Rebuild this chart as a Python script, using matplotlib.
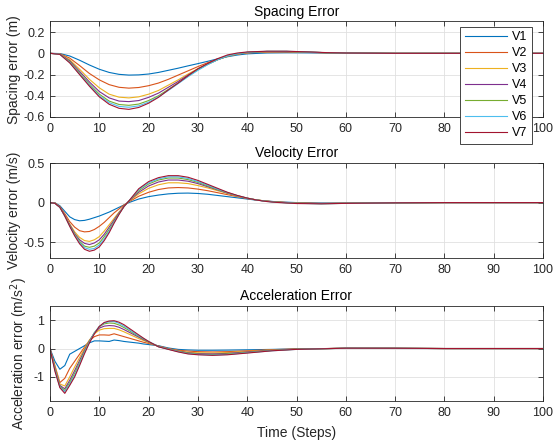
import numpy as np
import matplotlib
matplotlib.use("Agg")
import matplotlib.pyplot as plt

plt.rcParams['font.family'] = ['Liberation Sans', 'DejaVu Sans']

# Series names and MATLAB default colours
names = ["V1", "V2", "V3", "V4", "V5", "V6", "V7"]
colors = ["#0072BD", "#D95319", "#EDB120", "#7E2F8E", "#77AC30", "#4DBEEE", "#A2142F"]

# Spacing error (m)
t_sp = [0, 2, 4, 6, 8, 10, 12, 14, 16, 18, 20, 22, 24, 26, 28, 30, 32, 34, 36, 38,
        40, 44, 48, 52, 56, 60, 70, 80, 90, 100]
sp_v1 = [0, -0.002, -0.025, -0.065, -0.11, -0.15, -0.18, -0.198, -0.205, -0.203,
         -0.195, -0.18, -0.16, -0.14, -0.118, -0.097, -0.075, -0.052, -0.032, -0.016,
         -0.005, 0.004, 0.006, 0.005, 0.003, 0.002, 0, 0, 0, 0]
sp_v2 = [0, -0.004, -0.045, -0.115, -0.19, -0.25, -0.295, -0.32, -0.328, -0.322,
         -0.305, -0.28, -0.245, -0.205, -0.165, -0.125, -0.088, -0.055, -0.027, -0.008,
         0.004, 0.012, 0.013, 0.009, 0.005, 0.003, 0, 0, 0, 0]
sp_v3 = [0, -0.006, -0.06, -0.15, -0.245, -0.325, -0.385, -0.413, -0.42, -0.41,
         -0.385, -0.35, -0.30, -0.25, -0.195, -0.145, -0.10, -0.06, -0.028, -0.007,
         0.006, 0.015, 0.016, 0.011, 0.006, 0.003, 0, 0, 0, 0]
sp_v4 = [0, -0.007, -0.07, -0.17, -0.27, -0.36, -0.42, -0.45, -0.455, -0.445,
         -0.415, -0.375, -0.32, -0.265, -0.205, -0.15, -0.102, -0.06, -0.027, -0.005,
         0.008, 0.017, 0.017, 0.012, 0.006, 0.003, 0, 0, 0, 0]
sp_v5 = [0, -0.008, -0.078, -0.185, -0.29, -0.385, -0.45, -0.482, -0.49, -0.478,
         -0.445, -0.40, -0.34, -0.28, -0.215, -0.155, -0.104, -0.06, -0.026, -0.004,
         0.009, 0.018, 0.018, 0.012, 0.006, 0.003, 0, 0, 0, 0]
sp_v6 = [0, -0.009, -0.085, -0.195, -0.30, -0.40, -0.465, -0.50, -0.508, -0.495,
         -0.46, -0.41, -0.35, -0.285, -0.22, -0.16, -0.106, -0.06, -0.025, -0.003,
         0.01, 0.019, 0.019, 0.013, 0.006, 0.003, 0, 0, 0, 0]
sp_v7 = [0, -0.01, -0.09, -0.2, -0.31, -0.41, -0.48, -0.518, -0.528, -0.51,
         -0.47, -0.415, -0.345, -0.28, -0.21, -0.145, -0.095, -0.05, -0.015, 0.003,
         0.013, 0.02, 0.02, 0.014, 0.007, 0.003, 0, 0, 0, 0]

# Velocity error (m/s)
t_vel = [0, 1, 2, 3, 4, 5, 6, 7, 8, 9, 10, 11, 12, 13, 14, 15, 16,
         18, 20, 22, 24, 26, 28, 30, 32, 34, 36, 38, 40, 42, 44, 46,
         50, 55, 60, 70, 80, 100]
vel_v1 = [0, -0.003, -0.04, -0.11, -0.18, -0.215, -0.23, -0.225, -0.21, -0.19, -0.17,
          -0.145, -0.12, -0.09, -0.06, -0.03, 0.0,
          0.045, 0.075, 0.095, 0.11, 0.118, 0.12, 0.115, 0.105, 0.09, 0.075, 0.06,
          0.045, 0.03, 0.02, 0.01,
          0.0, -0.005, -0.005, -0.002, 0, 0]
vel_v2 = [0, -0.005, -0.05, -0.14, -0.24, -0.31, -0.355, -0.37, -0.365, -0.34, -0.30,
          -0.25, -0.19, -0.13, -0.08, -0.03, 0.01,
          0.08, 0.13, 0.165, 0.185, 0.19, 0.185, 0.17, 0.15, 0.125, 0.10, 0.075,
          0.05, 0.032, 0.018, 0.008,
          -0.005, -0.01, -0.008, -0.003, 0, 0]
vel_v3 = [0, -0.007, -0.055, -0.16, -0.27, -0.37, -0.44, -0.48, -0.49, -0.47, -0.43,
          -0.36, -0.28, -0.20, -0.12, -0.05, 0.015,
          0.11, 0.18, 0.225, 0.25, 0.25, 0.24, 0.215, 0.185, 0.15, 0.115, 0.08,
          0.055, 0.033, 0.018, 0.007,
          -0.007, -0.012, -0.01, -0.003, 0, 0]
vel_v4 = [0, -0.008, -0.057, -0.165, -0.28, -0.39, -0.47, -0.515, -0.53, -0.51, -0.47,
          -0.40, -0.31, -0.22, -0.13, -0.05, 0.02,
          0.13, 0.21, 0.26, 0.285, 0.285, 0.27, 0.24, 0.20, 0.16, 0.12, 0.085,
          0.055, 0.032, 0.017, 0.006,
          -0.008, -0.013, -0.01, -0.003, 0, 0]
vel_v5 = [0, -0.009, -0.058, -0.168, -0.29, -0.40, -0.49, -0.55, -0.565, -0.55, -0.51,
          -0.43, -0.34, -0.24, -0.14, -0.05, 0.02,
          0.15, 0.235, 0.285, 0.31, 0.31, 0.29, 0.255, 0.21, 0.165, 0.125, 0.087,
          0.056, 0.032, 0.016, 0.005,
          -0.009, -0.014, -0.01, -0.003, 0, 0]
vel_v6 = [0, -0.01, -0.06, -0.17, -0.295, -0.41, -0.505, -0.57, -0.59, -0.58, -0.535,
          -0.46, -0.36, -0.25, -0.145, -0.05, 0.02,
          0.165, 0.25, 0.30, 0.325, 0.325, 0.305, 0.265, 0.22, 0.17, 0.127, 0.088,
          0.056, 0.031, 0.014, 0.003,
          -0.01, -0.015, -0.01, -0.003, 0, 0]
vel_v7 = [0, -0.01, -0.06, -0.17, -0.30, -0.42, -0.52, -0.59, -0.615, -0.60, -0.56,
          -0.48, -0.38, -0.26, -0.15, -0.05, 0.02,
          0.175, 0.265, 0.315, 0.34, 0.34, 0.32, 0.28, 0.23, 0.18, 0.13, 0.09,
          0.057, 0.031, 0.013, 0.002,
          -0.012, -0.015, -0.01, -0.003, 0, 0]

# Acceleration error (m/s^2)
t_acc = [0, 1, 2, 3, 4, 5, 6, 7, 8, 9, 10, 11, 12, 13, 14, 15, 16, 17, 18, 19, 20,
         22, 24, 26, 28, 30, 33, 36, 40, 45, 50, 60, 70, 80, 100]
acc_v1 = [0, -0.45, -0.73, -0.6, -0.2, -0.1, 0.0, 0.1, 0.2, 0.27, 0.27,
          0.26, 0.25, 0.3, 0.28, 0.25, 0.23, 0.21, 0.19, 0.16, 0.14,
          0.1, 0.02, -0.03, -0.05, -0.06, -0.06, -0.055, -0.045, -0.03, -0.01, 0.005, 0.003, 0, 0]
acc_v2 = [0, -0.6, -1.2, -1.05, -0.7, -0.45, -0.2, 0.05, 0.28, 0.42, 0.48,
          0.48, 0.47, 0.52, 0.47, 0.42, 0.37, 0.32, 0.27, 0.22, 0.18,
          0.09, 0.0, -0.06, -0.09, -0.11, -0.12, -0.11, -0.08, -0.04, -0.015, 0.01, 0.008, 0, 0]
acc_v3 = [0, -0.65, -1.25, -1.32, -1.0, -0.65, -0.32, 0.0, 0.3, 0.52, 0.65,
          0.7, 0.71, 0.71, 0.66, 0.59, 0.51, 0.43, 0.35, 0.28, 0.21,
          0.08, -0.01, -0.08, -0.13, -0.15, -0.16, -0.14, -0.10, -0.05, -0.02, 0.01, 0.01, 0, 0]
acc_v4 = [0, -0.7, -1.3, -1.42, -1.12, -0.78, -0.42, -0.06, 0.27, 0.55, 0.72,
          0.79, 0.81, 0.80, 0.75, 0.67, 0.58, 0.49, 0.40, 0.31, 0.23,
          0.08, -0.015, -0.09, -0.15, -0.18, -0.19, -0.17, -0.12, -0.06, -0.02, 0.012, 0.01, 0, 0]
acc_v5 = [0, -0.72, -1.33, -1.48, -1.2, -0.87, -0.5, -0.1, 0.25, 0.56, 0.77,
          0.87, 0.9, 0.89, 0.83, 0.74, 0.64, 0.53, 0.43, 0.33, 0.24,
          0.07, -0.02, -0.1, -0.16, -0.2, -0.21, -0.19, -0.14, -0.07, -0.025, 0.012, 0.01, 0, 0]
acc_v6 = [0, -0.76, -1.36, -1.52, -1.26, -0.94, -0.55, -0.14, 0.23, 0.55, 0.78,
          0.9, 0.95, 0.95, 0.89, 0.79, 0.68, 0.56, 0.45, 0.35, 0.25,
          0.065, -0.025, -0.11, -0.18, -0.21, -0.23, -0.21, -0.15, -0.08, -0.03, 0.012, 0.01, 0, 0]
acc_v7 = [0, -0.8, -1.38, -1.58, -1.3, -1.0, -0.6, -0.18, 0.2, 0.52, 0.78,
          0.92, 0.97, 0.98, 0.93, 0.84, 0.72, 0.6, 0.48, 0.36, 0.25,
          0.06, -0.03, -0.12, -0.19, -0.22, -0.24, -0.22, -0.16, -0.08, -0.03, 0.012, 0.01, 0, 0]

spacing = [sp_v1, sp_v2, sp_v3, sp_v4, sp_v5, sp_v6, sp_v7]
velocity = [vel_v1, vel_v2, vel_v3, vel_v4, vel_v5, vel_v6, vel_v7]
accel = [acc_v1, acc_v2, acc_v3, acc_v4, acc_v5, acc_v6, acc_v7]

x_ticks = list(range(0, 101, 10))

W, H = 554, 445
fig = plt.figure(figsize=(W / 100, H / 100), dpi=100)


def px_axes(top, bottom, left=50, right=543):
    return fig.add_axes([left / W, 1 - bottom / H, (right - left) / W, (bottom - top) / H])


def style(ax, title, ylabel, ylim, yticks, ylabels, label_x):
    dark = "#262626"
    ax.set_xlim(0, 100)
    ax.set_ylim(*ylim)
    ax.set_xticks(x_ticks)
    ax.set_yticks(yticks)
    ax.set_yticklabels(ylabels)
    ax.grid(True, color="#e0e0e0", linewidth=0.6)
    ax.set_axisbelow(True)
    ax.tick_params(direction="in", length=3.5, width=0.6, top=True, right=True,
                   labelsize=9, colors=dark, pad=4)
    for s in ax.spines.values():
        s.set_color(dark)
        s.set_linewidth(0.6)
    ax.set_title(title, fontsize=10, color="black", pad=4)
    ax.set_ylabel(ylabel, fontsize=10, color=dark)
    ax.yaxis.set_label_coords(label_x, 0.5)


ax1 = px_axes(21.5, 117)
ax2 = px_axes(163, 258)
ax3 = px_axes(306, 401)

for i in range(7):
    ax1.plot(t_sp, spacing[i], color=colors[i], lw=0.8, label=names[i])
    ax2.plot(t_vel, velocity[i], color=colors[i], lw=0.8)
    ax3.plot(t_acc, accel[i], color=colors[i], lw=0.8)

style(ax1, "Spacing Error", "Spacing error (m)", (-0.6, 0.3),
      [-0.6, -0.4, -0.2, 0, 0.2], ["-0.6", "-0.4", "-0.2", "0", "0.2"], -0.058)
style(ax2, "Velocity Error", "Velocity error (m/s)", (-0.7, 0.5),
      [-0.5, 0, 0.5], ["-0.5", "0", "0.5"], -0.058)
style(ax3, "Acceleration Error", "Acceleration error (m/s$^2$)", (-1.85, 1.5),
      [-1, 0, 1], ["-1", "0", "1"], -0.041)
ax3.set_xlabel("Time (Steps)", fontsize=10, color="#262626", labelpad=5)

leg = ax1.legend(loc="upper right", bbox_to_anchor=(532 / W, 1 - 27 / H),
                 bbox_transform=fig.transFigure, borderaxespad=0, fancybox=False,
                 edgecolor="#262626", framealpha=1, fontsize=9, handlelength=3.4,
                 handletextpad=0.4, labelspacing=0.32, borderpad=0.35)
leg.get_frame().set_linewidth(0.6)

fig.savefig("out.png", dpi=100)
